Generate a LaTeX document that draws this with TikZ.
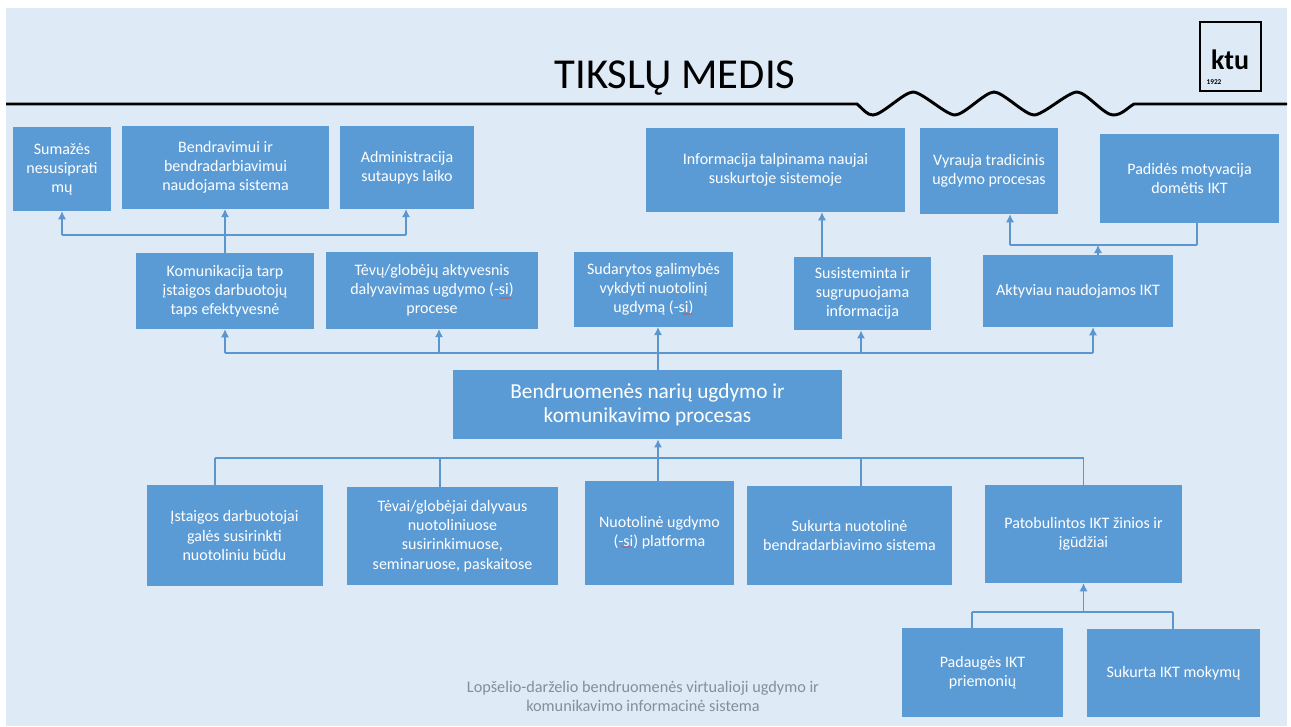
\documentclass[tikz,border=0pt]{standalone}
\usepackage{fontspec}
\setmainfont{Carlito}
\usepackage{tikz}
\usetikzlibrary{shapes,arrows.meta}
\usetikzlibrary{decorations.pathmorphing}
\definecolor{fonas}{HTML}{DEEAF6}
\definecolor{deze}{HTML}{5B9BD5}
\definecolor{linija}{HTML}{5B96CF}
\definecolor{pilka}{HTML}{858F9A}
\definecolor{klaida}{HTML}{C8525A}
\tikzset{
  tikslas/.style={fill=deze,text=white,align=center,inner sep=0.75pt,font=\fontsize{12pt}{14.4pt}\selectfont},
  jungtis/.style={draw=linija,line width=0.8pt},
  rodykle/.style={jungtis,-{Latex[length=6pt,width=6pt]}},
  banga/.style={draw=klaida,line width=0.5pt,decorate,decoration={snake,amplitude=0.5pt,segment length=2.5pt}}
}

\begin{document}
\begin{tikzpicture}[x=0.75pt,y=0.75pt,yscale=-1,xscale=1]
\useasboundingbox (0,0) rectangle (1291,726);
%Background
\fill [fonas] (6,8) rectangle (1287,726);
%Title line
\draw [line width=2.2pt,black]  (6,104) -- (857,104) .. controls (864,110) and (867,115) .. (873,115) .. controls (882,115) and (904,92) .. (913,92) .. controls (922,92) and (946,115) .. (955,115) .. controls (964,115) and (985,92) .. (994,92) .. controls (1003,92) and (1025,115) .. (1034,115) .. controls (1043,115) and (1068,92) .. (1077,92) .. controls (1086,92) and (1104,115) .. (1113,115) .. controls (1122,115) and (1127,108) .. (1134,104) -- (1287,104) ;
%Logo
\draw [line width=2.2pt,black]  (1200,22) rectangle (1261,91) ;

% Text Node
\node (antraste) [font=\fontsize{32pt}{36pt}\selectfont] at (675,78) {TIKSLŲ MEDIS};
% Text Node
\node (ktu) [inner sep=0.75pt,font=\fontsize{21pt}{24pt}\bfseries\selectfont] at (1230,60) {ktu};
% Text Node
\node (metai) [inner sep=0.75pt,font=\fontsize{5.5pt}{6pt}\bfseries\selectfont] at (1214,82) {1922};
% Text Node
\node (sistema) [text=pilka,align=center,inner sep=0.75pt,font=\fontsize{12.2pt}{14.3pt}\selectfont] at (643,696) {Lopšelio-darželio bendruomenės virtualioji ugdymo ir\\komunikavimo informacinė sistema};

%Top row
\node (sumazes) [tikslas,minimum width=73.5pt,minimum height=63pt] at (62,169) {Sumažės\\nesusiprati\\mų};
\node (bendravimui) [tikslas,minimum width=155pt,minimum height=62pt] at (225.5,167.5) {Bendravimui ir\\bendradarbiavimui\\naudojama sistema};
\node (administracija) [tikslas,minimum width=100.5pt,minimum height=62pt] at (407,167.5) {Administracija\\sutaupys laiko};
\node (informacija) [tikslas,minimum width=194pt,minimum height=63pt] at (775.5,170) {Informacija talpinama naujai\\suskurtoje sistemoje};
\node (vyrauja) [tikslas,minimum width=103.5pt,minimum height=64.5pt] at (989,171) {Vyrauja tradicinis\\ugdymo procesas};
\node (padides) [tikslas,minimum width=134.5pt,minimum height=67pt] at (1189.5,178.5) {Padidės motyvacija\\domėtis IKT};
%Middle row
\node (komunikacija) [tikslas,minimum width=133.5pt,minimum height=57pt] at (225,291) {Komunikacija tarp\\įstaigos darbuotojų\\taps efektyvesnė};
\node (tevu) [tikslas,minimum width=159pt,minimum height=57.5pt] at (432,290.5) {Tėvų/globėjų aktyvesnis\\dalyvavimas ugdymo (-si)\\procese};
\node (sudarytos) [tikslas,minimum width=119pt,minimum height=56pt] at (653.5,289.5) {Sudarytos galimybės\\vykdyti nuotolinį\\ugdymą (-si)};
\node (susisteminta) [tikslas,minimum width=103pt,minimum height=55pt] at (862.5,293.5) {Susisteminta ir\\sugrupuojama\\informacija};
\node (aktyviau) [tikslas,minimum width=142.5pt,minimum height=54pt] at (1078,291) {Aktyviau naudojamos IKT};
%Centre
\node (procesas) [tikslas,font=\fontsize{16pt}{18pt}\selectfont,minimum width=292pt,minimum height=52pt] at (647.5,404.5) {Bendruomenės narių ugdymo ir\\komunikavimo procesas};
%Bottom row
\node (istaigos) [tikslas,minimum width=132pt,minimum height=75.5pt] at (234.5,535.5) {Įstaigos darbuotojai\\galės susirinkti\\nuotoliniu būdu};
\node (tevai) [tikslas,minimum width=158.5pt,minimum height=73.5pt] at (452.5,536) {Tėvai/globėjai dalyvaus\\nuotoliniuose\\susirinkimuose,\\seminaruose, paskaitose};
\node (nuotoline) [tikslas,minimum width=111.5pt,minimum height=78pt] at (659.5,533) {Nuotolinė ugdymo\\(-si) platforma};
\node (sukurta) [tikslas,minimum width=153.5pt,minimum height=74pt] at (849.5,535.5) {Sukurta nuotolinė\\bendradarbiavimo sistema};
\node (patobulintos) [tikslas,minimum width=147.5pt,minimum height=73.5pt] at (1083.5,534) {Patobulintos IKT žinios ir\\įgūdžiai};
\node (padauges) [tikslas,minimum width=120.5pt,minimum height=67pt] at (982.5,672.5) {Padaugės IKT\\priemonių};
\node (mokymu) [tikslas,minimum width=130pt,minimum height=66pt] at (1173.5,673) {Sukurta IKT mokymų};

%Branch points
\coordinate (sumazesJ) at (62,235);
\coordinate (adminJ) at (406,235);
\coordinate (bendras) at (658,353);
\coordinate (tevuJ) at (439,353);
\coordinate (susistJ) at (861,353);
\coordinate (aktyvJ) at (1093,353);
\coordinate (infoJ) at (822,257);
\coordinate (vyrJ) at (1010,245);
\coordinate (padJ) at (1197,245);
\coordinate (aktJ) at (1098,245);
\coordinate (apacia) at (658,458);
\coordinate (istJ) at (215,458);
\coordinate (tevJ) at (440,458);
\coordinate (sukJ) at (861,458);
\coordinate (patJ) at (1083.5,458);
\coordinate (mazas) at (1083.5,612);
\coordinate (padgJ) at (972,612);
\coordinate (mokJ) at (1173,612);

%Straight Lines
\draw [rodykle]  (sumazesJ) -- (sumazesJ |- sumazes.south) ;
\draw [jungtis]  (sumazesJ) -- (adminJ) ;
\draw [rodykle]  (adminJ) -- (adminJ |- administracija.south) ;
\draw [rodykle]  (komunikacija.north) -- (bendravimui.south -| komunikacija.north) ;
%Straight Lines
\draw [jungtis]  (komunikacija.south |- bendras) -- (aktyvJ) ;
\draw [rodykle]  (komunikacija.south |- bendras) -- (komunikacija.south) ;
\draw [rodykle]  (tevuJ) -- (tevuJ |- tevu.south) ;
\draw [rodykle]  (procesas.north -| bendras) -- (bendras |- sudarytos.south) ;
\draw [rodykle]  (susistJ) -- (susistJ |- susisteminta.south) ;
\draw [rodykle]  (aktyvJ) -- (aktyvJ |- aktyviau.south) ;
%Straight Lines
\draw [rodykle]  (infoJ) -- (infoJ |- informacija.south) ;
\draw [jungtis]  (vyrJ) -- (padJ) ;
\draw [rodykle]  (vyrJ) -- (vyrJ |- vyrauja.south) ;
\draw [jungtis]  (padJ |- padides.south) -- (padJ) ;
\draw [rodykle]  (aktJ |- aktyviau.north) -- (aktJ) ;
%Straight Lines
\draw [jungtis]  (istJ) -- (patJ) ;
\draw [jungtis]  (istJ) -- (istJ |- istaigos.north) ;
\draw [jungtis]  (tevJ) -- (tevJ |- tevai.north) ;
\draw [rodykle]  (apacia |- nuotoline.north) -- (apacia |- procesas.south) ;
\draw [jungtis]  (sukJ) -- (sukJ |- sukurta.north) ;
\draw [jungtis]  (patJ) -- (patobulintos.north) ;
%Straight Lines
\draw [rodykle]  (mazas) -- (patobulintos.south) ;
\draw [jungtis]  (padgJ) -- (mokJ) ;
\draw [jungtis]  (padgJ) -- (padgJ |- padauges.north) ;
\draw [jungtis]  (mokJ) -- (mokJ |- mokymu.north) ;
%Spelling marks
\draw [banga]  (500,298) -- (512,298) ;
\draw [banga]  (682,314) -- (692,314) ;
\draw [banga]  (621,547) -- (631,547) ;
\end{tikzpicture}
\end{document}
